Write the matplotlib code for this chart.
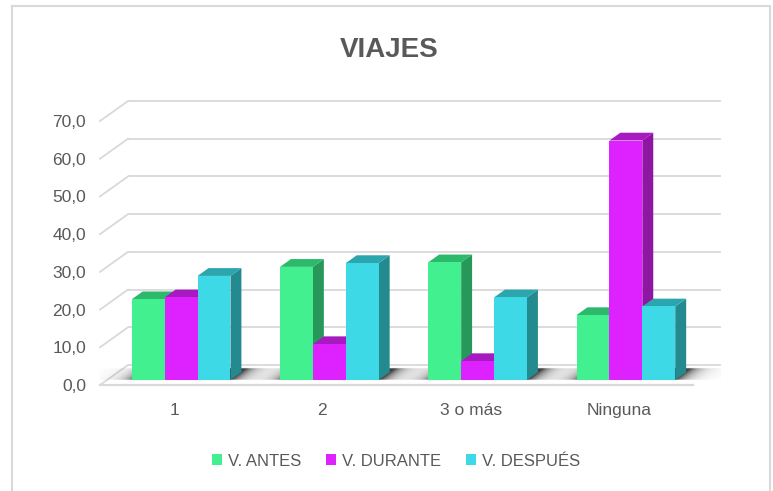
import numpy as np
import matplotlib
matplotlib.use("Agg")
import matplotlib.pyplot as plt
from matplotlib.patches import Polygon, Patch
from matplotlib.lines import Line2D

# ---------------- data ----------------
categories = ["1", "2", "3 o más", "Ninguna"]
series_names = ["V. ANTES", "V. DURANTE", "V. DESPUÉS"]
antes = [21.4, 30.0, 31.2, 17.2]
durante = [21.9, 9.5, 5.0, 63.5]
despues = [27.6, 31.0, 21.9, 19.5]
yticks = [0, 10, 20, 30, 40, 50, 60, 70]
ytick_labels = ["0,0", "10,0", "20,0", "30,0", "40,0", "50,0", "60,0", "70,0"]
title = "VIAJES"

# ---------------- style ----------------
plt.rcParams['font.family'] = ['Liberation Sans', 'DejaVu Sans']
front_cols = ["#42F08F", "#DD22FF", "#3DD9E6"]
top_cols = ["#2DB96B", "#A61ABF", "#2BA6AE"]
side_cols = ["#27985A", "#8E16A3", "#238A8F"]
text_col = "#595959"
grid_col = "#d9d9d9"

W, H = 773, 491
fig = plt.figure(figsize=(W / 100, H / 100), dpi=100)
ax = fig.add_axes([100 / W, (H - 385) / H, 621 / W, 284 / H])

ddx = 28 / 148.25   # depth offset in category units
ddy = 20 / 3.77     # depth offset in value units
d0, d1 = 0.25, 0.64
w = 0.222

ax.set_xlim(-0.5, 3.5 + ddx)
ax.set_ylim(0, 70 + ddy)
for s in ax.spines.values():
    s.set_visible(False)
ax.set_yticks(yticks, ytick_labels)
ax.set_xticks(range(len(categories)), categories)
ax.tick_params(length=0, labelsize=12.5, labelcolor=text_col)
ax.tick_params(axis='y', pad=10)
ax.tick_params(axis='x', pad=13)

# walls / gridlines
for v in yticks:
    ax.plot([-0.5 + ddx, 3.5 + ddx], [v + ddy, v + ddy], color=grid_col, lw=1.3,
            clip_on=False, zorder=1, solid_capstyle='butt')
    ax.plot([-0.5, -0.5 + ddx], [v, v + ddy], color=grid_col, lw=1.3,
            clip_on=False, zorder=1)
ax.plot([-0.5, 3.5], [0, 0], color=grid_col, lw=1.6, clip_on=False, zorder=1)


def draw_shadow(xl, xr):
    nx, ny = 300, 60
    X0, X1 = xl - 0.3, xr + ddx + 0.35
    V0, V1 = 0, ddy
    xs = np.linspace(X0, X1, nx)
    vs = np.linspace(V0, V1, ny)
    XX, VV = np.meshgrid(xs, vs)
    d = VV / ddy
    xb = XX - d * ddx
    inside = (d > 0.25) & (d < 0.8)
    dl = np.maximum(xl - xb, 0)
    dr = np.maximum(xb - xr, 0)
    alpha = np.where(xb < xl, 0.65 * np.exp(-dl / 0.07),
                     np.where(xb > xr, 0.85 * np.exp(-dr / 0.07), 0.85))
    alpha = np.where(inside, alpha, 0.0)
    img = np.zeros((ny, nx, 4))
    img[..., :3] = 0.12
    img[..., 3] = alpha
    ax.imshow(img, extent=(X0, X1, V0, V1), origin='lower', aspect='auto',
              zorder=2, interpolation='bilinear')


data = [antes, durante, despues]
for i in range(len(categories)):
    xl_c = i - 1.5 * w
    draw_shadow(xl_c, xl_c + 3 * w)
    for j, vals in enumerate(data):
        v = vals[i]
        xl = i - 1.5 * w + j * w
        xf = xl + d0 * ddx
        yb = d0 * ddy
        z = 3 + j
        side = [(xf + w, yb), (xf + w, yb + v),
                (xl + w + d1 * ddx, v + d1 * ddy), (xl + w + d1 * ddx, d1 * ddy)]
        ax.add_patch(Polygon(side, closed=True, facecolor=side_cols[j],
                             edgecolor='none', zorder=z, clip_on=False))
        topf = [(xf, yb + v), (xf + w, yb + v),
                (xl + w + d1 * ddx, v + d1 * ddy), (xl + d1 * ddx, v + d1 * ddy)]
        ax.add_patch(Polygon(topf, closed=True, facecolor=top_cols[j],
                             edgecolor='none', zorder=z, clip_on=False))
        ax.bar(xf, v, width=w, bottom=yb, align='edge', color=front_cols[j],
               edgecolor='none', zorder=z + 0.5, clip_on=False)

ax.set_xlim(-0.5, 3.5 + ddx)
ax.set_ylim(0, 70 + ddy)

# title
fig.text(389 / W, 1 - 50 / H, title, ha='center', va='center', fontsize=20,
         fontweight='bold', color=text_col)

# legend
handles = [Patch(facecolor=c, edgecolor='none') for c in front_cols]
fig.legend(handles, series_names, loc='center', bbox_to_anchor=(396 / W, 1 - 461 / H),
           ncol=3, frameon=False, fontsize=12, handlelength=0.6, handleheight=0.6,
           handletextpad=0.4, columnspacing=1.45, labelcolor=text_col)

# chart border
bc = "#d9d9d9"
fig.add_artist(Line2D([11.5 / W, 11.5 / W], [0, 1 - 6 / H], color=bc, lw=1.5))
fig.add_artist(Line2D([11.5 / W, 769.5 / W], [1 - 6 / H, 1 - 6 / H], color=bc, lw=1.5))
fig.add_artist(Line2D([769.5 / W, 769.5 / W], [0, 1 - 6 / H], color=bc, lw=1.5))

fig.savefig("out.png", dpi=100)
